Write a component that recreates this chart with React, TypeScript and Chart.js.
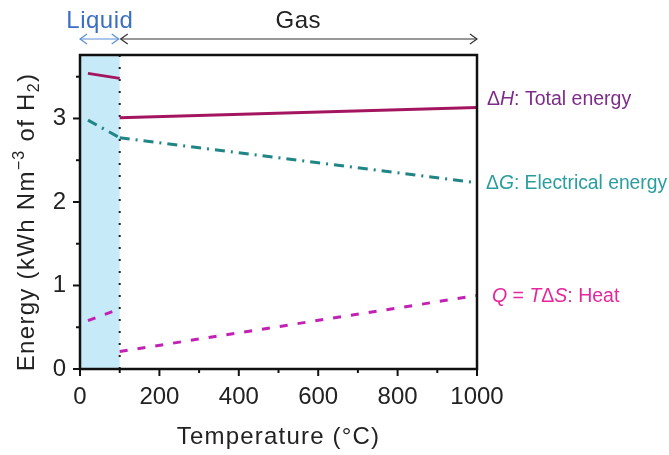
import React, { useEffect, useRef } from "react";
import { Chart, registerables } from "chart.js";

Chart.register(...registerables);

// ---- Data ----
const liquidTemps = [20, 100];
const gasTemps = [100, 1000];
const dH_liquid = [3.54, 3.48];
const dH_gas = [3.01, 3.13];
const dG_liquid = [2.98, 2.77];
const dG_gas = [2.77, 2.23];
const Q_liquid = [0.58, 0.72];
const Q_gas = [0.21, 0.88];

const xTickValues = [0, 200, 400, 600, 800, 1000];
const yTickValues = [0, 1, 2, 3];
const boilingPoint = 100;

const C_H = "#a3165f";
const C_G = "#1f8585";
const C_Q = "#c222b4";
const C_H_LABEL = "#7d2b8b";
const C_G_LABEL = "#2a9d9d";
const C_Q_LABEL = "#e6269b";
const FONT = "'Liberation Sans', Arial, Helvetica, sans-serif";

const pts = (xs: number[], ys: number[]) => xs.map((x, i) => ({ x, y: ys[i] }));

type Seg = { t: string; italic?: boolean; sup?: boolean; sub?: boolean };

function drawRich(ctx: any, segs: Seg[], x: number, y: number, size: number, color: string, align: "left" | "center" = "left", spacing = 0) {
  const fontFor = (s: Seg) => `${s.italic ? "italic " : ""}${s.sup || s.sub ? Math.round(size * 0.68) : size}px ${FONT}`;
  ctx.letterSpacing = `${spacing}px`;
  let total = 0;
  for (const s of segs) {
    ctx.font = fontFor(s);
    total += ctx.measureText(s.t).width;
  }
  let cx = align === "center" ? x - total / 2 : x;
  ctx.fillStyle = color;
  ctx.textBaseline = "alphabetic";
  ctx.textAlign = "left";
  for (const s of segs) {
    ctx.font = fontFor(s);
    const dy = s.sup ? -size * 0.42 : s.sub ? size * 0.22 : 0;
    ctx.fillText(s.t, cx, y + dy);
    cx += ctx.measureText(s.t).width;
  }
  ctx.letterSpacing = "0px";
}

function arrowHead(ctx: CanvasRenderingContext2D, x: number, y: number, dir: number) {
  ctx.beginPath();
  ctx.moveTo(x + dir * 7, y - 5);
  ctx.lineTo(x, y);
  ctx.lineTo(x + dir * 7, y + 5);
  ctx.stroke();
}

const decorPlugin = {
  id: "decor",
  beforeDatasetsDraw(chart: any) {
    const { ctx, chartArea, scales } = chart;
    const xs = scales.x;
    const xb = xs.getPixelForValue(boilingPoint);
    ctx.save();
    ctx.fillStyle = "#c6eaf8";
    ctx.fillRect(chartArea.left, chartArea.top, xb - chartArea.left, chartArea.bottom - chartArea.top);
    ctx.strokeStyle = "#222";
    ctx.lineWidth = 2;
    ctx.setLineDash([2, 10]);
    ctx.beginPath();
    ctx.moveTo(xb, chartArea.bottom);
    ctx.lineTo(xb, chartArea.top);
    ctx.stroke();
    ctx.restore();
  },
  afterDraw(chart: any) {
    const { ctx, chartArea, scales } = chart;
    const xs = scales.x;
    const ys = scales.y;
    ctx.save();
    ctx.strokeStyle = "#111";
    ctx.lineWidth = 2.5;
    ctx.setLineDash([]);
    ctx.strokeRect(chartArea.left, chartArea.top, chartArea.right - chartArea.left, chartArea.bottom - chartArea.top);
    ctx.lineWidth = 2;
    for (let v = 0; v <= 1000; v += 100) {
      const px = xs.getPixelForValue(v);
      const len = v % 200 === 0 ? 7 : 4;
      ctx.beginPath();
      ctx.moveTo(px, chartArea.bottom);
      ctx.lineTo(px, chartArea.bottom + len);
      ctx.stroke();
    }
    for (let v = 0; v <= 3.5; v += 0.5) {
      const py = ys.getPixelForValue(v);
      const len = Number.isInteger(v) ? 7 : 4;
      ctx.beginPath();
      ctx.moveTo(chartArea.left, py);
      ctx.lineTo(chartArea.left - len, py);
      ctx.stroke();
    }
    const x0 = xs.getPixelForValue(0);
    const xb = xs.getPixelForValue(boilingPoint);
    const x1 = xs.getPixelForValue(1000);
    const ay = 39;
    ctx.lineWidth = 1.2;
    ctx.strokeStyle = "#5b8fd6";
    ctx.beginPath();
    ctx.moveTo(x0, ay);
    ctx.lineTo(xb - 1, ay);
    ctx.stroke();
    arrowHead(ctx, x0, ay, 1);
    arrowHead(ctx, xb - 1, ay, -1);
    ctx.strokeStyle = "#333";
    ctx.beginPath();
    ctx.moveTo(xb + 1, ay);
    ctx.lineTo(x1, ay);
    ctx.stroke();
    arrowHead(ctx, xb + 1, ay, 1);
    arrowHead(ctx, x1, ay, -1);
    drawRich(ctx, [{ t: "Liquid" }], (x0 + xb) / 2, 28, 24, "#3a6fc4", "center", 0.5);
    drawRich(ctx, [{ t: "Gas" }], (xb + x1) / 2, 28, 24, "#222", "center", 0.5);
    drawRich(ctx, [{ t: "\u0394" }, { t: "H", italic: true }, { t: ": Total energy" }], 487, 105, 19.5, C_H_LABEL);
    drawRich(ctx, [{ t: "\u0394" }, { t: "G", italic: true }, { t: ": Electrical energy" }], 486, 189, 19.3, C_G_LABEL);
    drawRich(ctx, [{ t: "Q", italic: true }, { t: " = " }, { t: "T", italic: true }, { t: "\u0394" }, { t: "S", italic: true }, { t: ": Heat" }], 492, 302, 19.5, C_Q_LABEL);
    drawRich(ctx, [{ t: "Temperature (\u00B0C)" }], (chartArea.left + chartArea.right) / 2, 444, 24, "#222", "center", 1.2);
    ctx.translate(34, 222);
    ctx.rotate(-Math.PI / 2);
    drawRich(ctx, [{ t: "Energy (kWh Nm" }, { t: "\u22123", sup: true }, { t: " of H" }, { t: "2", sub: true }, { t: ")" }], 0, 0, 24, "#222", "center", 1.3);
    ctx.restore();
  },
};

export default function App() {
  const ref = useRef<HTMLCanvasElement>(null);
  useEffect(() => {
    if (!ref.current) return;
    const lineDs = (data: any[], color: string, dash: number[]) => ({
      data,
      borderColor: color,
      borderWidth: 3,
      borderDash: dash,
      pointRadius: 0,
      fill: false,
      tension: 0,
    });
    const chart = new Chart(ref.current, {
      type: "line",
      data: {
        datasets: [
          lineDs(pts(liquidTemps, dH_liquid), C_H, []),
          lineDs(pts(gasTemps, dH_gas), C_H, []),
          lineDs(pts(liquidTemps, dG_liquid), C_G, [10, 6, 2, 6]),
          lineDs(pts(gasTemps, dG_gas), C_G, [10, 6, 2, 6]),
          lineDs(pts(liquidTemps, Q_liquid), C_Q, [8, 10]),
          lineDs(pts(gasTemps, Q_gas), C_Q, [8, 10]),
        ],
      },
      options: {
        responsive: false,
        animation: false,
        devicePixelRatio: 1,
        layout: { padding: { top: 55, right: 192, bottom: 0, left: 0 } },
        plugins: { legend: { display: false }, tooltip: { enabled: false } },
        scales: {
          x: {
            type: "linear",
            min: 0,
            max: 1000,
            border: { display: false },
            grid: { display: false, drawTicks: true, tickLength: 7 },
            afterBuildTicks: (s: any) => {
              s.ticks = xTickValues.map((v) => ({ value: v }));
            },
            afterFit: (s: any) => {
              s.height = 86;
            },
            ticks: { font: { size: 24, family: FONT }, color: "#222", padding: 7, maxRotation: 0, autoSkip: false, callback: (v: any) => String(v) },
          },
          y: {
            type: "linear",
            min: 0,
            max: 3.76,
            border: { display: false },
            grid: { display: false, drawTicks: true, tickLength: 7 },
            afterBuildTicks: (s: any) => {
              s.ticks = yTickValues.map((v) => ({ value: v }));
            },
            afterFit: (s: any) => {
              s.width = 80;
            },
            ticks: { font: { size: 24, family: FONT }, color: "#222", padding: 7, callback: (v: any) => String(v) },
          },
        },
      },
      plugins: [decorPlugin],
    });
    return () => chart.destroy();
  }, []);
  return (
    <div style={{ position: "fixed", left: 0, top: 0, width: 669, height: 455, background: "#fff" }}>
      <canvas ref={ref} width={669} height={455} style={{ display: "block" }} />
    </div>
  );
}
